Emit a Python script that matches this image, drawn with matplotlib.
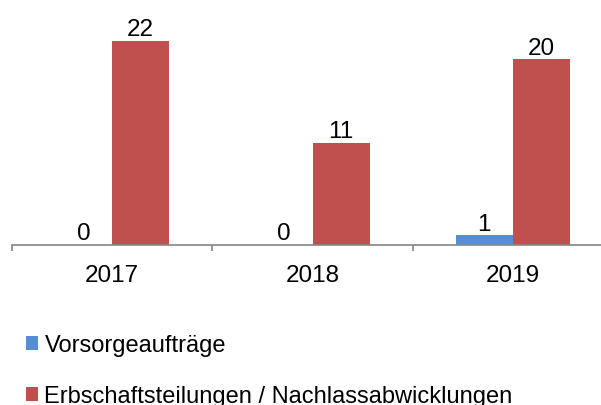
import matplotlib.pyplot as plt
import numpy as np

# data
years = ['2017', '2018', '2019']
vorsorge = [0, 0, 1]
erbschaft = [22, 11, 20]
series_names = ['Vorsorgeaufträge', 'Erbschaftsteilungen / Nachlassabwicklungen']

plt.rcParams['font.family'] = ['Liberation Sans', 'DejaVu Sans']

fig = plt.figure(figsize=(6.01, 4.06), dpi=100)
ax = fig.add_axes([12/601, 1 - 245.5/406, 1.0, 231.5/406])

x = np.arange(len(years))
w = 0.285
b1 = ax.bar(x - w/2, vorsorge, w, color='#558ED5', label=series_names[0])
b2 = ax.bar(x + w/2, erbschaft, w, color='#C0504D', label=series_names[1])
ax.bar_label(b1, padding=0.5, fontsize=17.5)
ax.bar_label(b2, padding=0.5, fontsize=17.5)

ax.set_xlim(-0.5, 2.5)
ax.set_ylim(0, 25)
for s in ['left', 'right', 'top']:
    ax.spines[s].set_visible(False)
ax.spines['bottom'].set_color('#868686')
ax.spines['bottom'].set_linewidth(1.2)
ax.set_yticks([])
ax.set_xticks(x)
ax.set_xticklabels(years, fontsize=17.5)
ax.tick_params(axis='x', which='major', length=0, pad=14)
ax.set_xticks(np.arange(-0.5, 3.0, 1.0), minor=True)
ax.tick_params(axis='x', which='minor', length=4, width=1.2, color='#868686')

fig.legend(handles=[b1, b2], loc='upper left', bbox_to_anchor=(26/601, 1 - 335.5/406),
           frameon=False, fontsize=17, borderpad=0, borderaxespad=0,
           handlelength=0.5, handleheight=0.5, handletextpad=0.28,
           labelspacing=1.22)

fig.savefig('out.png', dpi=100)
